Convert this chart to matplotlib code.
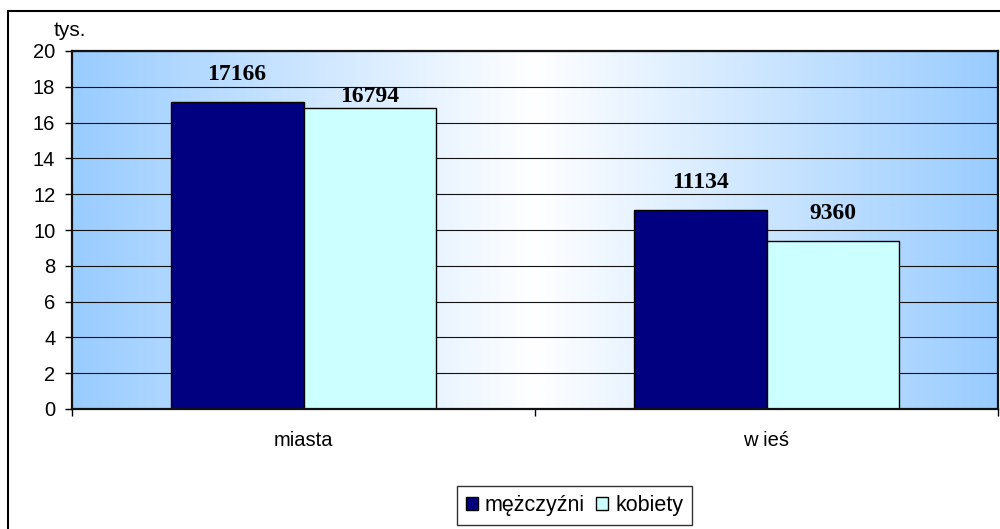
import numpy as np
from matplotlib import pyplot as plt
from matplotlib import colors
from matplotlib.patches import Patch, Rectangle

categories = ['miasta', 'w ieś']
series_names = ['mężczyźni', 'kobiety']
men = [17.166, 11.134]
women = [16.794, 9.360]
men_labels = ['17166', '11134']
women_labels = ['16794', '9360']
yticks = [0, 2, 4, 6, 8, 10, 12, 14, 16, 18, 20]

# label offsets above bar tops, in pixels
men_off = [27, 27]
women_off = [12, 28]

dark = '#000080'
light = '#CCFFFF'

fig = plt.figure(figsize=(10, 5.29), dpi=100)
ax = fig.add_axes([0.072, 1 - 409 / 529, 0.926, (409 - 51) / 529])

# gradient background: blue edges, white centre
grad_cmap = colors.LinearSegmentedColormap.from_list('bg', ['#99CCFF', '#FFFFFF', '#99CCFF'])
g = np.linspace(0, 1, 512).reshape(1, -1)
ax.imshow(g, cmap=grad_cmap, aspect='auto', extent=(-0.5, 1.5, 0, 20), zorder=0)

x = np.arange(len(categories))
w = 0.287
ax.bar(x - w / 2, men, w, color=dark, edgecolor='black', linewidth=1.0, zorder=3)
ax.bar(x + w / 2, women, w, color=light, edgecolor='black', linewidth=1.0, zorder=3)

lab_font = dict(family='Liberation Serif', fontsize=17, fontweight='bold', color='black')
for i in range(len(categories)):
    ax.annotate(men_labels[i], (x[i] - w / 2, men[i]), xytext=(0, men_off[i]),
                textcoords='offset pixels', ha='center', va='center', zorder=5, **lab_font)
    ax.annotate(women_labels[i], (x[i] + w / 2, women[i]), xytext=(0, women_off[i]),
                textcoords='offset pixels', ha='center', va='center', zorder=5, **lab_font)

ax.set_xlim(-0.5, 1.5)
ax.set_ylim(0, 20)
ax.set_yticks(yticks)
ax.grid(axis='y', color='#111111', linewidth=0.8, zorder=1)
ax.set_axisbelow(False)

ax.set_xticks(x)
ax.set_xticklabels(categories, family='Liberation Sans', fontsize=14.5)
ax.set_xticks([-0.5, 0.5, 1.5], minor=True)
ax.tick_params(axis='x', which='major', length=0, pad=16)
ax.tick_params(axis='x', which='minor', length=5, width=1, direction='out')
ax.tick_params(axis='y', length=5, width=1, direction='out', pad=7, labelsize=14.5)
for t in ax.get_yticklabels():
    t.set_family('Liberation Sans')

for s in ax.spines.values():
    s.set_linewidth(1.6)
    s.set_color('#111111')
    s.set_zorder(6)

fig.text(0.054, 1 - 36 / 529, 'tys.', family='Liberation Sans', fontsize=15, va='baseline', ha='left')

# outer chart frame
fig.patches.append(Rectangle((8 / 1000, -0.1), 1.2, 1.1 - 11 / 529,
                             transform=fig.transFigure, fill=False, edgecolor='black',
                             linewidth=1.5))

handles = [Patch(facecolor=dark, edgecolor='black', linewidth=1.0),
           Patch(facecolor=light, edgecolor='black', linewidth=1.0)]
leg = fig.legend(handles, series_names, loc='center', bbox_to_anchor=(0.5745, 1 - 505.5 / 529),
                 ncol=2, frameon=True, fancybox=False, edgecolor='black',
                 prop={'family': 'Liberation Sans', 'size': 15.5},
                 handlelength=0.55, handleheight=0.55, handletextpad=0.35,
                 columnspacing=0.5, borderpad=0.4, borderaxespad=0)
leg.get_frame().set_linewidth(1.0)

fig.savefig('out.png', dpi=100)
